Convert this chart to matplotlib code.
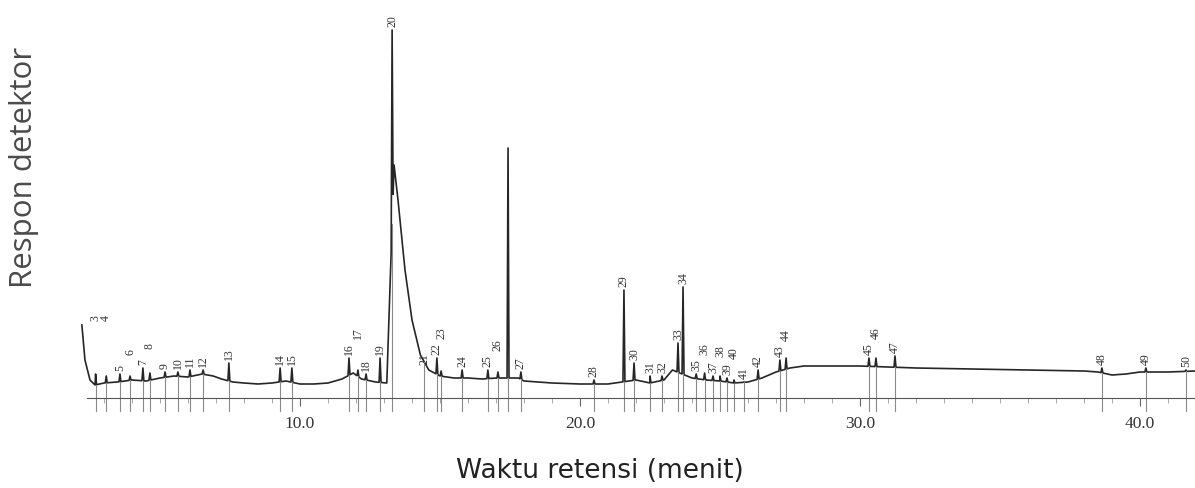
import numpy as np
import matplotlib
matplotlib.use("Agg")
import matplotlib.pyplot as plt
from matplotlib.ticker import FixedLocator

# baseline of the trace (time in min, detector response)
base_t = [2.21, 2.32, 2.5, 2.68, 3.0, 3.5, 4.0, 4.5, 5.0, 5.5, 6.0, 6.5, 6.9, 7.2,
          7.6, 8.0, 8.5, 9.0, 9.5, 10.0, 10.5, 11.0, 11.5, 11.9, 12.2, 12.7, 13.1,
          13.36, 13.5, 13.75, 14.0, 14.3, 14.6, 15.0, 15.5, 16.0, 16.5, 17.0, 17.8,
          18.0, 19.0, 20.0, 21.0, 22.0, 22.5, 23.0, 23.3, 24.0, 24.5, 25.0, 25.5,
          26.0, 26.5, 27.0, 27.5, 28.0, 29.0, 30.0, 32.0, 34.0, 36.0, 38.0, 38.5,
          39.0, 39.5, 40.0, 41.0, 42.0]
base_y = [73, 38, 18, 13, 15, 16, 18, 17, 20, 22, 21, 24, 22, 19,
          16, 15, 14, 15, 17, 14, 14, 15, 19, 25, 19, 16, 15,
          233, 198, 128, 78, 43, 28, 22, 20, 20, 19, 20, 20,
          17, 15, 14, 14, 18, 15, 18, 28, 20, 18, 17, 15,
          16, 20, 26, 30, 32, 32, 32, 30, 29, 28, 27, 26,
          23, 24, 26, 26, 27]

# peaks: label, retention time, apex response
peak_lbl = ["3", "4", "5", "6", "7", "8", "9", "10", "11", "12", "13", "14", "15",
            "16", "17", "18", "19", "20", "21", "22", "23", "24", "25", "26", "",
            "27", "28", "29", "30", "31", "32", "33", "34", "35", "36", "37", "38",
            "39", "40", "41", "42", "43", "44", "45", "46", "47", "48", "49", "50"]
peak_rt = [2.7, 3.08, 3.57, 3.93, 4.39, 4.64, 5.18, 5.64, 6.07, 6.54, 7.46, 9.29, 9.71,
           11.75, 12.07, 12.36, 12.86, 13.29, 14.43, 14.89, 15.04, 15.79, 16.71, 17.07, 17.43,
           17.89, 20.5, 21.57, 21.93, 22.5, 22.93, 23.5, 23.68, 24.15, 24.45, 24.75, 25.0,
           25.25, 25.5, 25.85, 26.36, 27.14, 27.36, 30.32, 30.57, 31.25, 38.64, 40.21, 41.64]
peak_h = [24, 22, 24, 22, 30, 25, 26, 26, 28, 28, 35, 30, 30,
          40, 28, 24, 40, 368, 30, 40, 27, 28, 28, 26, 250,
          26, 18, 108, 35, 22, 22, 55, 111, 24, 25, 22, 22,
          20, 18, 16, 28, 38, 40, 40, 40, 42, 30, 30, 28]

# build the trace: baseline anchors plus a narrow spike for every peak
tt = list(base_t)
yy = list(base_y)
for rt, h in zip(peak_rt, peak_h):
    b = np.interp(rt, base_t, base_y)
    if b >= h:
        continue
    tt += [rt - 0.035, rt, rt + 0.035]
    yy += [np.interp(rt - 0.035, base_t, base_y), h, np.interp(rt + 0.035, base_t, base_y)]
order = np.argsort(tt, kind="stable")
tt = np.array(tt)[order]
yy = np.array(yy)[order]

fig = plt.figure(figsize=(11.95, 4.88), dpi=100)
ax = fig.add_axes([0, 0, 1, 1])
ax.set_xlim(-20 / 28, 1175 / 28)
ax.set_ylim(-90, 398)

ax.plot(tt, yy, color="#262626", lw=1.2)

# integration marks below the baseline
for rt in peak_rt:
    b = np.interp(rt, base_t, base_y)
    ax.plot([rt, rt], [b, -13], color="#8a8a8a", lw=0.8)

# peak numbers, stacked when they would collide
start_t, start_y = base_t[0], base_y[0]
lab_len = 15
placed = []
for rt, h, lbl in zip(peak_rt, peak_h, peak_lbl):
    if not lbl:
        continue
    y = h + 3
    if rt - start_t < 1.0:
        y = start_y + 4
    moved = True
    while moved:
        moved = False
        for px, y0, y1 in placed:
            if abs(px - rt) < 0.37 and y < y1 and y + lab_len > y0:
                y = y1 + 1
                moved = True
    placed.append((rt, y, y + lab_len))
    ax.text(rt, y, lbl, rotation=90, ha="center", va="bottom", fontsize=8.5,
            family="Liberation Serif", color="#333333")

for s in ["top", "right", "left"]:
    ax.spines[s].set_visible(False)
ax.spines["bottom"].set_position(("data", 0))
ax.spines["bottom"].set_bounds(2.4, 42)
ax.spines["bottom"].set_color("#555555")
ax.xaxis.set_major_locator(FixedLocator([10, 20, 30, 40]))
ax.xaxis.set_minor_locator(FixedLocator([m for m in range(3, 42) if m % 10]))
ax.set_xticklabels(["10.0", "20.0", "30.0", "40.0"], family="Liberation Serif",
                   fontsize=12.5, color="#333333")
ax.tick_params(axis="x", which="major", length=6, width=0.8, color="#666666", pad=7)
ax.tick_params(axis="x", which="minor", length=3.5, width=0.6, color="#999999")
ax.set_yticks([])
ax.patch.set_alpha(0)

fig.text(0.502, 0.035, "Waktu retensi (menit)", ha="center", va="center",
         fontsize=19, family="DejaVu Sans", color="#222222")
fig.text(0.02, 0.657, "Respon detektor", ha="center", va="center", rotation=90,
         fontsize=22.5, family="Open Sans", color="#4a4a4a")

fig.savefig("out.png", dpi=100)
